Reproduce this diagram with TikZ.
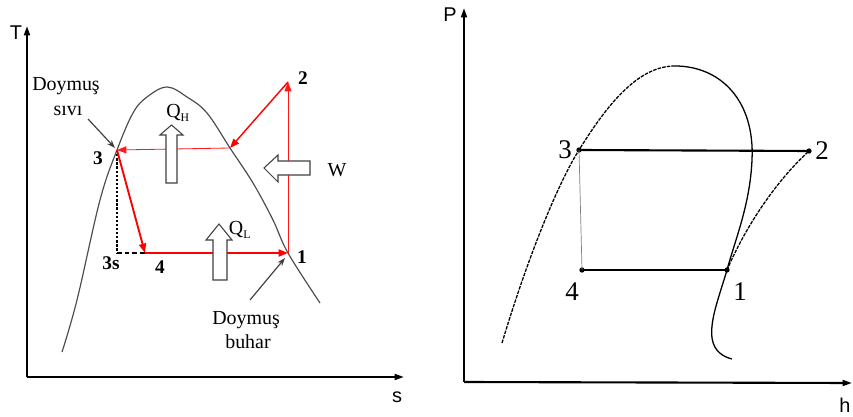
\documentclass[tikz,border=0pt]{standalone}
\usepackage{fontspec}
\setmainfont{Liberation Serif}
\newfontfamily\sansf{Liberation Sans}
\usetikzlibrary{arrows.meta}
\begin{document}
\begin{tikzpicture}[x=0.3mm,y=-0.3mm,
  axisline/.style={line width=1.8pt,black,-{Triangle[length=8pt,width=5pt]}},
  axlabel/.style={font=\sansf\fontsize{17}{17}\selectfont,inner sep=0pt},
  lbl/.style={font=\fontsize{17}{17}\selectfont,inner sep=0pt},
  numl/.style={font=\bfseries\fontsize{16.5}{16.5}\selectfont,inner sep=0pt},
  numr/.style={font=\fontsize{23}{23}\selectfont,inner sep=0pt},
  redthick/.style={red,line width=1.6pt,-{Triangle[length=8pt,width=6pt]}},
  redthin/.style={red!90,line width=0.7pt,-{Triangle[length=8pt,width=6pt]}},
  redmid/.style={red,line width=1.2pt,-{Triangle[length=8pt,width=6pt]}},
  domeL/.style={black!70,line width=1pt},
  domeR/.style={black,line width=1.1pt},
  dashR/.style={black,line width=1.1pt,dash pattern=on 3pt off 1pt},
  hollow/.style={draw=black!75,line width=0.9pt,fill=white},
  pointer/.style={black!75,line width=1pt,-{Stealth[length=7pt,width=5pt]}},
  dotp/.style={circle,fill=black,inner sep=0pt,minimum size=4.5pt}]
\useasboundingbox (0,0) rectangle (853,417);
% ---------------- left panel: T-s ----------------
\coordinate (oL) at (27,377);
\coordinate (tL) at (27,26);
\coordinate (sL) at (404,377);
\draw[axisline] (oL) -- (tL);
\draw[axisline] (oL) -- (sL);
\node[axlabel] (Tlab) at (16,33) {T};
\node[axlabel] (slab) at (397,397) {s};
% dome
\draw[domeL] plot[smooth,tension=0.6] coordinates {(62,352) (77,300) (100,200) (117,150) (133,113) (147,97) (167,87) (187,97) (207,113) (230,148) (253,183) (273,220) (288,253) (320,303)};
% points
\coordinate (p3) at (117,150);
\coordinate (p2) at (288,82);
\coordinate (p1) at (288,253);
\coordinate (p4) at (145,253);
\coordinate (p3s) at (117,253);
\coordinate (pa) at (230,148);
% dotted/dashed
\draw[black,line width=1pt,dash pattern=on 2pt off 1.5pt] (p3) -- (p3s);
\draw[black,line width=1pt,dash pattern=on 4pt off 2.5pt] (p3s) -- (p4);
% red cycle
\draw[redthin] (p1) -- (p2);
\draw[redmid] (p2) -- (pa);
\draw[redthin] (pa) -- (p3);
\draw[redthick] (p3) -- (p4);
\draw[redthick] (p4) -- (p1);
% hollow arrows
\draw[hollow] (166,183) -- (166,135) -- (160,135) -- (171.5,125) -- (183,135) -- (177,135) -- (177,183) -- cycle;
\draw[hollow] (213,280) -- (213,240) -- (206,240) -- (219,224) -- (232,240) -- (227,240) -- (227,280) -- cycle;
\draw[hollow] (310,161) -- (278,161) -- (278,155) -- (264,168) -- (278,182) -- (278,175) -- (310,175) -- cycle;
% labels
\node[numl] (l2) at (303,78) {2};
\node[numl] (l3) at (98,158) {3};
\node[numl] (l3s) at (111,263) {3s};
\node[numl] (l4) at (160,267) {4};
\node[numl] (l1) at (302,257) {1};
\node[lbl] (lW) at (337,170) {W};
\node[lbl] (lQH) at (178,113) {Q\textsubscript{\fontsize{10}{10}\selectfont H}};
\node[lbl] (lQL) at (240,230) {Q\textsubscript{\fontsize{10}{10}\selectfont L}};
\node[lbl] (ds1) at (66,86) {Doymuş};
\node[lbl] (ds2) at (68,111) {sıvı};
\node[lbl] (db1) at (246,320) {Doymuş};
\node[lbl] (db2) at (248,342) {buhar};
\coordinate (sa) at (88,119);
\coordinate (ba) at (250,300);
\draw[pointer] (sa) -- (115,148);
\draw[pointer] (ba) -- (285,258);
% ---------------- right panel: P-h ----------------
\coordinate (oR) at (464,382);
\coordinate (tR) at (464,8);
\coordinate (hR) at (852,383);
\draw[axisline] (oR) -- (tR);
\draw[axisline] (oR) -- (hR);
\node[axlabel] (Plab) at (450,15) {P};
\node[axlabel] (hlab) at (845,405) {h};
% dome
\draw[dashR] (502,343) .. controls (530,250) and (560,180) .. (579,150)
   .. controls (610,100) and (640,66) .. (675,66);
\draw[domeR] (675,66) .. controls (720,66) and (755,100) .. (752,160)
   .. controls (750,205) and (735,240) .. (727,270)
   .. controls (718,300) and (710,320) .. (712,338)
   .. controls (714,352) and (724,357) .. (732,359);
% cycle points
\node[dotp] (q3) at (579,150) {};
\node[dotp] (q2) at (809,151) {};
\node[dotp] (q4) at (582,270) {};
\node[dotp] (q1) at (727,270) {};
\draw[black,line width=1.8pt] (q3.center) -- (q2.center);
\draw[black,line width=1.8pt] (q4.center) -- (q1.center);
\draw[black!50,line width=0.6pt] (q3.center) -- (q4.center);
\draw[dashR] (q1.center) .. controls (745,228) and (775,182) .. (q2.center);
\node[numr] (r3) at (565,150) {3};
\node[numr] (r2) at (822,151) {2};
\node[numr] (r4) at (572,292) {4};
\node[numr] (r1) at (740,292) {1};
\end{tikzpicture}
\end{document}
